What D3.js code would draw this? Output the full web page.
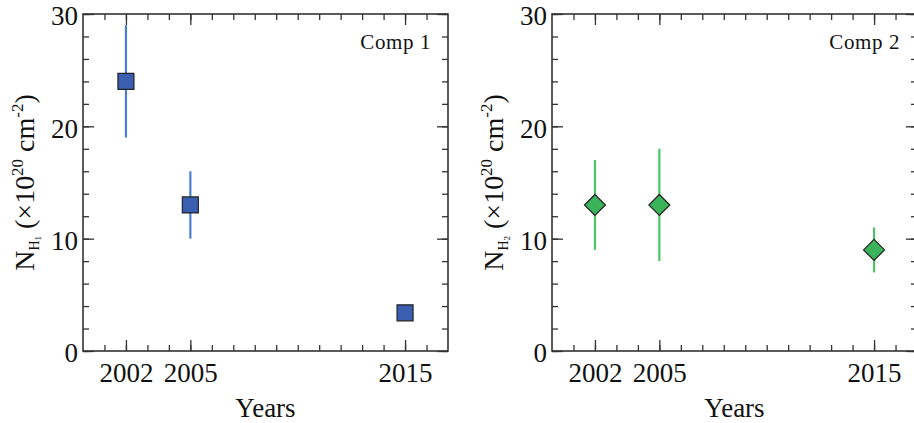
<!DOCTYPE html>
<html>
<head>
<meta charset="utf-8">
<script src="https://cdn.jsdelivr.net/npm/d3@7"></script>
<style>
  body { margin: 0; background: #fff; }
  svg text { font-family: "Liberation Serif", "Times New Roman", serif; fill: #111; }
</style>
</head>
<body>
<svg id="chart" width="914" height="423"></svg>
<script>
// data
var years = [2002, 2005, 2015];
var comp1 = [24, 13, 3.4];
var comp1Lo = [19, 10, 3.4];
var comp1Hi = [29, 16, 3.4];
var comp2 = [13, 13, 9];
var comp2Lo = [9, 8, 7];
var comp2Hi = [17, 18, 11];
var yTicks = [0, 10, 20, 30];
var yMinor = d3.range(0, 31, 2);
var xMinor = d3.range(2001, 2017);

var svg = d3.select("#chart");

//one panel: frame, ticks on all four sides, error bars, markers
function drawPanel(left, opts){
  var top = 14, w = 365, h = 337;
  var g = svg.append("g").attr("transform", "translate(" + left + "," + top + ")");
  var x = d3.scaleLinear().domain([2000, 2017]).range([0, w]);
  var y = d3.scaleLinear().domain([0, 30]).range([h, 0]);

  //minor ticks first, then major ones
  g.append("g").attr("transform", "translate(0," + h + ")")
    .call(d3.axisBottom(x).tickValues(xMinor).tickSize(-6).tickFormat(""));
  g.append("g").call(d3.axisTop(x).tickValues(xMinor).tickSize(-6).tickFormat(""));
  g.append("g").call(d3.axisLeft(y).tickValues(yMinor).tickSize(-6).tickFormat(""));
  g.append("g").attr("transform", "translate(" + w + ",0)")
    .call(d3.axisRight(y).tickValues(yMinor).tickSize(-6).tickFormat(""));

  var xb = g.append("g").attr("transform", "translate(0," + h + ")")
    .call(d3.axisBottom(x).tickValues(years).tickSize(-11).tickPadding(17).tickFormat(d3.format("d")));
  g.append("g").call(d3.axisTop(x).tickValues(years).tickSize(-11).tickFormat(""));
  var yl = g.append("g").call(d3.axisLeft(y).tickValues(yTicks).tickSize(-11).tickPadding(5));
  g.append("g").attr("transform", "translate(" + w + ",0)")
    .call(d3.axisRight(y).tickValues(yTicks).tickSize(-11).tickFormat(""));

  g.selectAll(".domain").remove();
  g.selectAll(".tick line").attr("stroke", "#333").attr("stroke-width", 1.3);
  g.selectAll(".tick text").style("font-size", "27px").attr("font-family", null).attr("fill", "#111");
  xb.selectAll(".tick text").attr("dy", "0.5em");
  yl.selectAll(".tick text").attr("dy", "0.4em");

  g.append("rect").attr("width", w).attr("height", h)
    .attr("fill", "none").attr("stroke", "#333").attr("stroke-width", 1.6);

  // error bars
  var pts = years.map(function(yr, i){
    return {yr: yr, v: opts.vals[i], lo: opts.lo[i], hi: opts.hi[i]};
  });
  g.selectAll("line.err").data(pts).enter().append("line")
    .attr("class", "err")
    .attr("x1", function(d){ return x(d.yr); })
    .attr("x2", function(d){ return x(d.yr); })
    .attr("y1", function(d){ return y(d.lo); })
    .attr("y2", function(d){ return y(d.hi); })
    .attr("stroke", opts.barColor).attr("stroke-width", 2.2);

  g.selectAll("path.mark").data(pts).enter().append("path")
    .attr("class", "mark")
    .attr("transform", function(d){ return "translate(" + x(d.yr) + "," + y(d.v) + ")"; })
    .attr("d", opts.shape)
    .attr("fill", opts.fill).attr("stroke", "#222").attr("stroke-width", 1.2);

  // component tag
  g.append("text").attr("x", w - 17).attr("y", 35)
    .attr("text-anchor", "end").style("font-size", "21px").style("letter-spacing", "0.6px")
    .text(opts.tag);

  // x label
  g.append("text").attr("x", w / 2).attr("y", 417 - top)
    .attr("text-anchor", "middle").style("font-size", "27px").text("Years");

  // y label with nested subscript and superscripts
  var t = g.append("text")
    .attr("transform", "translate(" + (-49) + "," + (h / 2) + ") rotate(-90)")
    .attr("text-anchor", "middle").style("font-size", "28px");
  t.append("tspan").text("N");
  t.append("tspan").style("font-size", "14px").attr("dy", 5).text("H");
  t.append("tspan").style("font-size", "9px").attr("dy", 2).text(opts.sub);
  t.append("tspan").attr("dy", -7).text("\u00a0(\u00d710");
  t.append("tspan").style("font-size", "17px").attr("dy", -11).text("20");
  t.append("tspan").attr("dy", 11).text("\u00a0cm");
  t.append("tspan").style("font-size", "17px").attr("dy", -11).text("-2");
  t.append("tspan").attr("dy", 11).text(")");
}

var squarePath = "M-8,-8H8V8H-8Z";
var diamondPath = "M0,-10.5L10.5,0L0,10.5L-10.5,0Z";

drawPanel(83, {vals: comp1, lo: comp1Lo, hi: comp1Hi, fill: "#3a5fb0",
  barColor: "#4a7fd6", shape: squarePath, tag: "Comp 1", sub: "1"});
drawPanel(552, {vals: comp2, lo: comp2Lo, hi: comp2Hi, fill: "#3bb35a",
  barColor: "#4dc46a", shape: diamondPath, tag: "Comp 2", sub: "2"});
</script>
</body>
</html>
